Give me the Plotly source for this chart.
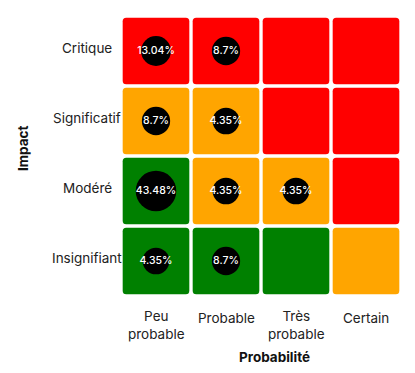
import plotly.graph_objects as go

# ---- data ----
probabilites = ["Peu probable", "Probable", "Très probable", "Certain"]
prob_ticks = ["Peu<br>probable", "Probable", "Très<br>probable", "Certain"]
impacts = ["Insignifiant", "Modéré", "Significatif", "Critique"]  # bottom -> top

# risk level per cell, rows = impacts (bottom->top), cols = probabilites
niveaux = [
    ["faible", "faible", "faible", "moyen"],      # Insignifiant
    ["faible", "moyen", "moyen", "eleve"],        # Modéré
    ["moyen", "moyen", "eleve", "eleve"],         # Significatif
    ["eleve", "eleve", "eleve", "eleve"],         # Critique
]
couleurs_niveaux = {"faible": "#008000", "moyen": "#FFA500", "eleve": "#FF0000"}

# percentages of risks (None = empty)
pourcentages = [
    [4.35, 8.7, None, None],      # Insignifiant
    [43.48, 4.35, 4.35, None],    # Modéré
    [8.7, 4.35, None, None],      # Significatif
    [13.04, 8.7, None, None],     # Critique
]

fig = go.Figure()

# ---- cells as rounded rectangles ----
hw = 0.476   # half cell size (data units)
r = 0.05     # corner radius
shapes = []
for i, imp in enumerate(impacts):
    for j, prob in enumerate(probabilites):
        x0, x1 = j - hw, j + hw
        y0, y1 = i - hw, i + hw
        path = (f"M {x0+r},{y0} L {x1-r},{y0} Q {x1},{y0} {x1},{y0+r} "
                f"L {x1},{y1-r} Q {x1},{y1} {x1-r},{y1} "
                f"L {x0+r},{y1} Q {x0},{y1} {x0},{y1-r} "
                f"L {x0},{y0+r} Q {x0},{y0} {x0+r},{y0} Z")
        shapes.append(dict(type="path", path=path, xref="x", yref="y",
                           fillcolor=couleurs_niveaux[niveaux[i][j]],
                           line=dict(width=0), layer="below"))

# ---- bubbles ----
xs, ys, vals = [], [], []
for i in range(len(impacts)):
    for j in range(len(probabilites)):
        v = pourcentages[i][j]
        if v is not None:
            xs.append(j)
            ys.append(i)
            vals.append(v)

fig.add_trace(go.Scatter(
    x=xs, y=ys, mode="markers+text",
    marker=dict(size=[25.2 + 0.355 * v for v in vals], color="black",
                opacity=1, line=dict(width=0)),
    opacity=1,
    text=[f"{v:g}%" for v in vals],
    textposition="middle center",
    textfont=dict(family="Inter", size=10.5, color="white", weight=500),
    hoverinfo="skip", showlegend=False, cliponaxis=False,
))

FONT = dict(family="Inter", size=13.5, color="#222")
annotations = []
# y tick labels (centered) as annotations
for i, imp in enumerate(impacts):
    annotations.append(dict(text=imp, x=-0.1214, xref="paper", y=i, yref="y",
                            xanchor="center", yanchor="middle", showarrow=False,
                            yshift=3, font=FONT))
# x tick labels
for j, lab in enumerate(prob_ticks):
    two = "<br>" in lab
    annotations.append(dict(text=lab, x=j, xref="x", y=0, yref="paper",
                            xanchor="center", yanchor="middle",
                            showarrow=False, yshift=-28.8 if two else -21.5,
                            font=FONT))
# axis titles
annotations.append(dict(text="<b>Probabilité</b>", x=(274.5 - 121) / 280, xref="paper",
                        y=(296 - 357) / 280, yref="paper", xanchor="center",
                        yanchor="middle", showarrow=False,
                        font=dict(family="Inter", size=13.5, color="#111")))
annotations.append(dict(text="<b>Impact</b>", x=(23 - 121) / 280, xref="paper",
                        y=(296 - 148) / 280, yref="paper", xanchor="center",
                        yanchor="middle", showarrow=False, textangle=-90,
                        font=dict(family="Inter", size=13.5, color="#111")))

# page body has an 8px margin: size the figure so the plot lands where intended
fig.update_layout(
    width=407, height=365,
    margin=dict(l=113, r=14, t=8, b=77),
    paper_bgcolor="white", plot_bgcolor="white",
    shapes=shapes, annotations=annotations,
    xaxis=dict(range=[-0.5, 3.5], showticklabels=False, showgrid=False,
               zeroline=False, showline=False, ticks="", fixedrange=True),
    yaxis=dict(range=[-0.5, 3.5], showticklabels=False, showgrid=False,
               zeroline=False, showline=False, ticks="", fixedrange=True),
    showlegend=False,
)

fig.write_html("out.html")
